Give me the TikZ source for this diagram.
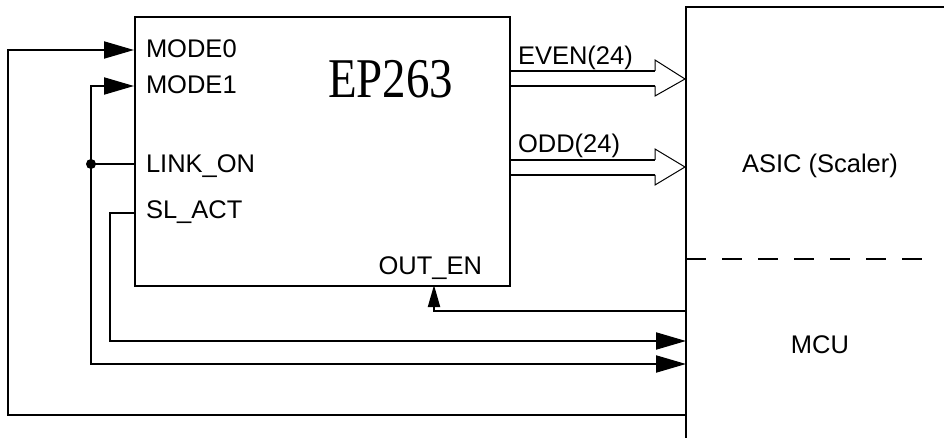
\documentclass[tikz,border=0pt]{standalone}
\usepackage{fontspec}
\setmainfont{Liberation Sans}
\newfontfamily\timesf{Liberation Serif}
\usetikzlibrary{arrows.meta}
\begin{document}
\begin{tikzpicture}[x=1pt,y=-1pt,line width=2pt,
  tipbig/.style={-{Triangle[length=30pt,width=17pt]}},
  tipsmall/.style={-{Triangle[length=22pt,width=12pt]}},
  lbl/.style={font=\fontsize{25.5}{30}\selectfont,inner sep=0pt},
  bus/.style={line width=2pt},
  bushead/.style={line width=1pt,line join=miter}]
\useasboundingbox (0,0) rectangle (944,438);

% EP263 block
\node[draw,line width=2pt,minimum width=375pt,minimum height=269pt,anchor=north west,inner sep=0pt] (ep) at (134,16) {};
\node[inner sep=0pt,anchor=base west] (title) at (327,98) {\scalebox{1.02}[1.22]{\timesf\fontsize{46}{50}\selectfont EP263}};

% pin labels
\node[lbl,anchor=base west] (m0) at (145,58) {MODE0};
\node[lbl,anchor=base west] (m1) at (145,94) {MODE1};
\node[lbl,anchor=base west] (lk) at (145,173) {LINK\_ON};
\node[lbl,anchor=base west] (sl) at (145,219) {SL\_ACT};
\node[lbl,anchor=base east] (oe) at (483,274) {OUT\_EN};
\node[lbl,anchor=base west] (even) at (517,65) {EVEN(24)};
\node[lbl,anchor=base west] (odd) at (517,153) {ODD(24)};

% ASIC / MCU region
\coordinate (regtop) at (686,7);
\coordinate (regbot) at (686,438);
\draw (944,7) -- (regtop) -- (regbot);
\draw[dash pattern=on 20pt off 16pt,line width=2pt] (686,259) -- (932,259);
\node[lbl,anchor=base] (asic) at (820,173) {ASIC (Scaler)};
\node[lbl,anchor=base] (mcu) at (820,353) {MCU};

% ports
\coordinate (pm0) at (134,50);
\coordinate (pm1) at (134,86);
\coordinate (plk) at (134,164);
\coordinate (psl) at (134,213);
\coordinate (poe) at (434,285);
\coordinate (junc) at (91,164);
\coordinate (q0) at (686,415);
\coordinate (q1) at (686,364);
\coordinate (q2) at (686,341);
\coordinate (q3) at (686,311);

% connectors
\draw[tipbig] (q0) -- (8,415) -- (8,50) -- (pm0);
\draw (plk) -- (junc);
\fill (junc) circle (5pt);
\draw[tipbig] (junc) |- (pm1);
\draw[tipbig] (junc) |- (q1);
\draw[tipbig] (psl) -- (110,213) |- (q2);
\draw[tipsmall] (q3) -| (poe);

% bus arrows
\draw[bus] (509,71) -- (655,71) (509,86) -- (655,86);
\draw[bushead] (655,71) -- (655,60) -- (685,79) -- (655,96) -- (655,86);
\draw[bus] (509,160) -- (655,160) (509,175) -- (655,175);
\draw[bushead] (655,160) -- (655,149) -- (685,167) -- (655,185) -- (655,175);
\end{tikzpicture}
\end{document}
